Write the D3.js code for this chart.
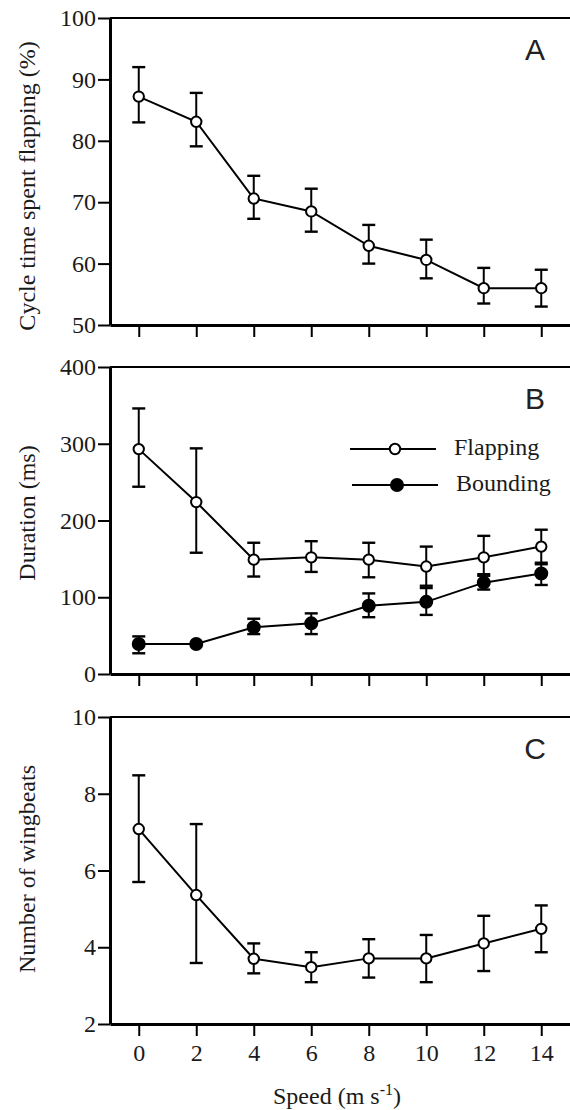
<!DOCTYPE html>
<html>
<head>
<meta charset="utf-8">
<script src="https://cdn.jsdelivr.net/npm/d3@7"></script>
<style>
  html, body { margin: 0; padding: 0; background: #fff; }
  svg { display: block; }
</style>
</head>
<body>
<svg id="chart" width="570" height="1110"></svg>
<script>
// ---------------- data ----------------
const speeds = [0, 2, 4, 6, 8, 10, 12, 14];
const speedTicks = [0, 2, 4, 6, 8, 10, 12, 14];

const cycleMean  = [87.2, 83.1, 70.6, 68.5, 62.9, 60.6, 56.0, 56.0];
const cycleUpper = [92.0, 87.8, 74.3, 72.2, 66.3, 63.9, 59.3, 59.0];
const cycleLower = [83.0, 79.1, 67.3, 65.2, 60.0, 57.6, 53.5, 53.0];
const cycleTicks = [50, 60, 70, 80, 90, 100];

const flapMean  = [293, 224, 149, 152, 149, 140, 152, 166];
const flapUpper = [346, 294, 171, 173, 171, 166, 180, 188];
const flapLower = [244, 158, 127, 133, 126, 115, 130, 143];
const boundMean  = [39, 39, 61, 66, 89, 94, 119, 131];
const boundUpper = [49, 39, 72, 79, 105, 112, 128, 145];
const boundLower = [27, 39, 52, 52, 74, 77, 110, 116];
const durationTicks = [0, 100, 200, 300, 400];

const beatsMean  = [7.08, 5.36, 3.70, 3.48, 3.71, 3.71, 4.10, 4.48];
const beatsUpper = [8.48, 7.21, 4.10, 3.87, 4.21, 4.32, 4.82, 5.09];
const beatsLower = [5.70, 3.59, 3.32, 3.09, 3.21, 3.09, 3.38, 3.87];
const beatsTicks = [2, 4, 6, 8, 10];

const legendLabels = ["Flapping", "Bounding"];
const panelLetters = ["A", "B", "C"];
const yTitles = ["Cycle time spent flapping (%)", "Duration (ms)", "Number of wingbeats"];
const xTitle = "Speed (m s";

// ---------------- layout ----------------
const svg = d3.select("#chart");
const serif = "'Liberation Serif', 'Times New Roman', Times, serif";
const sans = "'Liberation Sans', Arial, Helvetica, sans-serif";
const X0 = 110, X1 = 570;
const x = d3.scaleLinear().domain([-1, 15]).range([X0, X1]);

const panels = [
  { top: 18, bottom: 325, domain: [50, 100], ticks: cycleTicks, titleY: 186, letter: panelLetters[0], title: yTitles[0],
    series: [{ mean: cycleMean, up: cycleUpper, lo: cycleLower, filled: false }], labels: false },
  { top: 367, bottom: 674, domain: [0, 400], ticks: durationTicks, titleY: 513, letter: panelLetters[1], title: yTitles[1],
    series: [{ mean: flapMean, up: flapUpper, lo: flapLower, filled: false },
             { mean: boundMean, up: boundUpper, lo: boundLower, filled: true }], labels: false, legend: true },
  { top: 717, bottom: 1024, domain: [2, 10], ticks: beatsTicks, titleY: 869, letter: panelLetters[2], title: yTitles[2],
    series: [{ mean: beatsMean, up: beatsUpper, lo: beatsLower, filled: false }], labels: true }
];

panels.forEach(p => {
  const y = d3.scaleLinear().domain(p.domain).range([p.bottom, p.top]);
  const g = svg.append("g");

  // top frame line
  g.append("line").attr("x1", X0).attr("x2", X1).attr("y1", p.top).attr("y2", p.top)
    .attr("stroke", "#000").attr("stroke-width", 2);

  // y axis
  const ya = g.append("g").attr("transform", `translate(${X0},0)`)
    .call(d3.axisLeft(y).tickValues(p.ticks).tickSize(12).tickSizeOuter(0).tickPadding(2).tickFormat(d3.format("d")));
  ya.select(".domain").attr("stroke", "#000").attr("stroke-width", 3);
  ya.selectAll(".tick line").attr("stroke", "#000").attr("stroke-width", 2);
  ya.selectAll(".tick text").attr("font-family", serif).attr("font-size", 24).attr("fill", "#1a1a1a");

  // x axis
  const xa = g.append("g").attr("transform", `translate(0,${p.bottom})`)
    .call(d3.axisBottom(x).tickValues(speedTicks).tickSize(12).tickSizeOuter(0).tickPadding(8)
      .tickFormat(p.labels ? d3.format("d") : () => ""));
  xa.select(".domain").attr("stroke", "#000").attr("stroke-width", 3);
  xa.selectAll(".tick line").attr("stroke", "#000").attr("stroke-width", 2);
  xa.selectAll(".tick text").attr("font-family", serif).attr("font-size", 24).attr("fill", "#1a1a1a");

  // y title
  g.append("text").attr("transform", `translate(27,${p.titleY}) rotate(-90)`)
    .attr("text-anchor", "middle").attr("dominant-baseline", "central")
    .attr("font-family", serif).attr("font-size", 24).attr("fill", "#1a1a1a").text(p.title);

  // panel letter
  g.append("text").attr("x", 535).attr("y", p.top + 42).attr("text-anchor", "middle")
    .attr("font-family", sans).attr("font-size", 30).attr("fill", "#222").text(p.letter);

  // error bars
  p.series.forEach(s => {
    const eb = g.append("g");
    speeds.forEach((sp, i) => {
      if (s.up[i] === s.lo[i]) return;
      const cx = x(sp);
      eb.append("line").attr("x1", cx).attr("x2", cx).attr("y1", y(s.up[i])).attr("y2", y(s.lo[i]))
        .attr("stroke", "#000").attr("stroke-width", 2);
      [s.up[i], s.lo[i]].forEach(v => {
        eb.append("line").attr("x1", cx - 6.5).attr("x2", cx + 6.5).attr("y1", y(v)).attr("y2", y(v))
          .attr("stroke", "#000").attr("stroke-width", 2.4);
      });
    });
  });

  // lines + markers
  p.series.forEach(s => {
    const pts = speeds.map((sp, i) => [sp, s.mean[i]]);
    g.append("path").datum(pts)
      .attr("d", d3.line().x(d => x(d[0])).y(d => y(d[1])))
      .attr("fill", "none").attr("stroke", "#000").attr("stroke-width", 2);
  });
  p.series.forEach(s => {
    g.selectAll(null).data(speeds.map((sp, i) => [sp, s.mean[i]])).enter().append("circle")
      .attr("cx", d => x(d[0])).attr("cy", d => y(d[1]))
      .attr("r", s.filled ? 6 : 5.2)
      .attr("fill", s.filled ? "#000" : "#fff").attr("stroke", "#000").attr("stroke-width", 2);
  });

  if (p.legend) {
    const lg = g.append("g");
    const rows = [{ y: 449, filled: false, x1: 350, x2: 436, cx: 395, tx: 454 },
                  { y: 485, filled: true, x1: 352, x2: 438, cx: 397, tx: 456 }];
    rows.forEach((r, i) => {
      lg.append("line").attr("x1", r.x1).attr("x2", r.x2).attr("y1", r.y).attr("y2", r.y)
        .attr("stroke", "#000").attr("stroke-width", 2);
      lg.append("circle").attr("cx", r.cx).attr("cy", r.y).attr("r", r.filled ? 6 : 5.2)
        .attr("fill", r.filled ? "#000" : "#fff").attr("stroke", "#000").attr("stroke-width", 2);
      lg.append("text").attr("x", r.tx).attr("y", r.y + 6)
        .attr("font-family", serif).attr("font-size", 24).attr("fill", "#1a1a1a").text(legendLabels[i]);
    });
  }
});

// x axis title
const xt = svg.append("text").attr("x", 337).attr("y", 1104).attr("text-anchor", "middle")
  .attr("font-family", serif).attr("font-size", 24).attr("fill", "#1a1a1a");
xt.append("tspan").text(xTitle);
xt.append("tspan").attr("font-size", 16).attr("dy", -9).text("-1");
xt.append("tspan").attr("dy", 9).text(")");
</script>
</body>
</html>
